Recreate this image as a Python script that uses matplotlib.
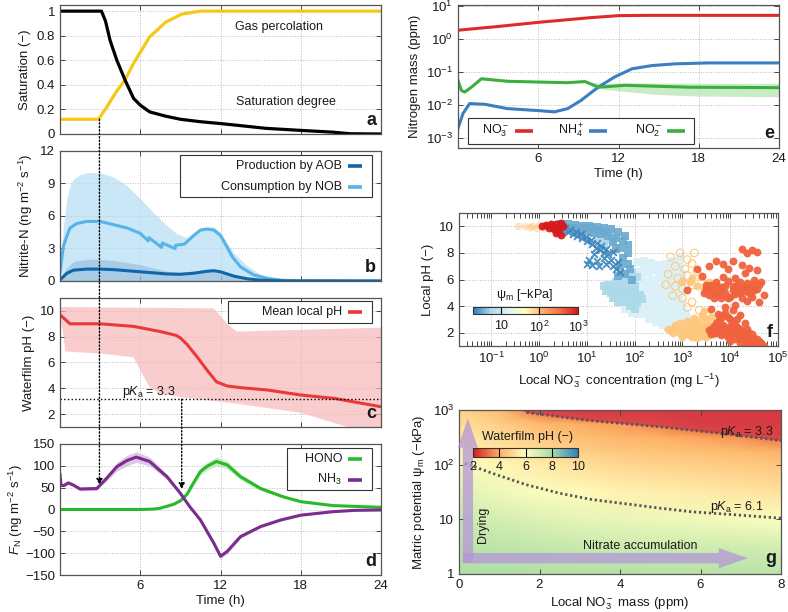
import numpy as np
import matplotlib
matplotlib.use("Agg")
import matplotlib.pyplot as plt
from matplotlib.colors import LinearSegmentedColormap, LogNorm, Normalize
from matplotlib.patches import ConnectionPatch, Rectangle
from matplotlib.cm import ScalarMappable
from matplotlib.lines import Line2D

plt.rcParams['font.family'] = ['Liberation Sans', 'DejaVu Sans']
plt.rcParams['mathtext.fontset'] = 'custom'
plt.rcParams['mathtext.rm'] = 'Liberation Sans'
plt.rcParams['mathtext.it'] = 'Liberation Sans:italic'
plt.rcParams['mathtext.bf'] = 'Liberation Sans:bold'

# ---------------- data ----------------
# a: saturation
a_t_sat = [0, 3.1, 3.4, 3.75, 4.25, 4.86, 5.5, 6.0, 6.7, 7.9, 9.0, 10.5, 12.0, 13.5, 15.4, 17.9, 20.4, 21.7, 24.0]
a_sat = [1.0, 1.0, 0.92, 0.76, 0.60, 0.44, 0.29, 0.235, 0.18, 0.145, 0.12, 0.10, 0.085, 0.068, 0.046, 0.03, 0.015, 0.002, 0.0]
a_t_gas = [0, 2.9, 3.0, 3.5, 4.25, 4.86, 5.5, 6.7, 7.9, 9.1, 10.5, 24]
a_gas = [0.12, 0.12, 0.14, 0.22, 0.35, 0.44, 0.575, 0.79, 0.91, 0.976, 1.0, 1.0]

# b: nitrite rates
nob_t = [0, 0.25, 0.5, 0.75, 1.25, 2.0, 3.0, 4.0, 5.0, 6.0, 6.6, 6.65, 7.6, 7.65, 8.6, 8.65, 9.3, 10.0, 10.5, 11.0, 11.5, 12.0, 12.5, 12.9, 13.5, 14.5, 15.5, 16.5, 17.5, 24]
nob = [0.8, 3.2, 4.1, 4.9, 5.3, 5.5, 5.5, 5.2, 4.9, 4.4, 3.7, 4.0, 3.1, 3.5, 3.0, 3.3, 3.4, 4.2, 4.7, 4.8, 4.7, 4.2, 3.1, 2.2, 1.3, 0.55, 0.25, 0.08, 0.02, 0.0]
nob_hi_t = [0, 0.25, 0.5, 0.75, 1.0, 1.5, 2.0, 3.0, 4.0, 5.0, 6.0, 7.0, 8.0, 8.7, 9.5, 10.5, 11.5, 12.0, 12.5, 13.0, 14.0, 15.0, 16.0, 17.0, 24]
nob_hi = [0.8, 5.0, 7.5, 8.8, 9.4, 9.8, 10.0, 10.0, 9.6, 8.8, 7.6, 6.3, 5.1, 4.4, 4.0, 4.9, 5.0, 4.5, 3.5, 2.6, 1.4, 0.6, 0.2, 0.05, 0.0]
aob_t = [0, 0.25, 0.5, 1.0, 2.0, 3.0, 4.0, 5.0, 6.0, 7.0, 7.5, 8.0, 9.0, 10.0, 11.0, 11.5, 12.0, 12.5, 13.0, 14.0, 15.0, 16.0, 17.0, 24]
aob = [0.1, 0.4, 0.7, 1.0, 1.1, 1.1, 1.05, 0.95, 0.85, 0.75, 0.7, 0.65, 0.62, 0.72, 0.9, 0.95, 0.85, 0.65, 0.45, 0.2, 0.08, 0.03, 0.01, 0.0]
aob_hi_t = [0, 0.5, 1, 2, 3, 4, 5, 6, 7, 8, 9, 10, 11, 12, 13, 14, 15, 16, 24]
aob_hi = [0.1, 1.2, 1.8, 2.0, 2.0, 1.9, 1.7, 1.5, 1.2, 0.9, 0.8, 0.9, 1.05, 1.0, 0.6, 0.25, 0.1, 0.03, 0.0]

# c: waterfilm pH
ph_t = [0, 0.75, 3.0, 5.5, 7.5, 8.7, 9.0, 9.5, 10.2, 11.0, 11.7, 12.5, 13.5, 15.5, 18.0, 20.5, 24.0]
ph = [9.7, 9.0, 9.0, 8.8, 8.4, 8.1, 7.9, 7.4, 6.5, 5.4, 4.5, 4.18, 4.05, 3.87, 3.48, 3.22, 2.57]
ph_hi_t = [0, 11.5, 12.5, 13.2, 24]
ph_hi = [10.3, 10.2, 9.0, 8.4, 8.7]
ph_lo_t = [0, 0.2, 0.4, 3.0, 5.5, 6.0, 6.7, 7.5, 9.1, 12.9, 18.0, 21.5, 24]
ph_lo = [9.5, 8.5, 6.85, 6.7, 6.4, 5.4, 4.1, 3.6, 3.3, 2.85, 2.1, 1.0, 1.0]
pka_line = 3.15

# d: fluxes
nh3_t = [0, 0.08, 0.3, 0.62, 1.0, 1.5, 2.75, 3.0, 3.5, 4.25, 5.0, 5.7, 6.7, 8.0, 9.0, 9.7, 10.5, 11.5, 12.0, 12.5, 13.5, 15.0, 16.5, 18.0, 20.4, 22, 24]
nh3 = [80, 55, 55, 61, 56, 47, 48, 56, 72, 98, 112, 120, 110, 75, 37, 6.5, -24, -77, -107, -96, -62, -39, -24, -13, -5, -2, -1]
nh3_w = [3, 3, 3, 4, 4, 4, 4, 4, 6, 10, 12, 12, 10, 6, 4, 3, 3, 4, 6, 5, 4, 3, 3, 2, 2, 2, 2]
hono_t = [0, 6.0, 7.0, 7.5, 8.5, 9.0, 9.5, 10.0, 10.5, 11.0, 11.7, 12.5, 13.5, 15.0, 16.7, 18.0, 20.4, 24]
hono = [0, 0, 1, 3, 12, 20, 35, 62, 87, 99, 110, 102, 75, 48, 29, 18, 9, 5]
hono_w = [0, 0, 1, 1, 2, 3, 4, 6, 8, 9, 10, 9, 7, 5, 3, 2, 2, 2]

# e: nitrogen mass
no3_t = [0, 3, 6, 9.8, 12, 14, 24]
no3 = [1.85, 2.4, 3.2, 4.4, 5.1, 5.2, 5.2]
nh4_t = [0, 0.37, 0.87, 2.0, 3.7, 6.2, 7.2, 8.2, 9.2, 10.0, 10.7, 11.7, 13.0, 14.5, 16.2, 18.7, 24]
nh4 = [0.002, 0.0056, 0.0112, 0.0107, 0.0079, 0.0068, 0.0063, 0.0079, 0.014, 0.025, 0.04, 0.071, 0.126, 0.158, 0.178, 0.19, 0.19]
no2_t = [0, 0.25, 0.5, 1.0, 1.75, 3.7, 6.2, 8.2, 9.5, 10.5, 12.5, 17.4, 24]
no2 = [0.056, 0.028, 0.025, 0.035, 0.063, 0.053, 0.05, 0.048, 0.052, 0.035, 0.04, 0.035, 0.034]
no2_band_t = [10.0, 11.0, 12.5, 15.0, 18.0, 24]
no2_hi = [0.05, 0.045, 0.048, 0.047, 0.046, 0.046]
no2_lo = [0.045, 0.03, 0.026, 0.021, 0.019, 0.018]

# f: local pH vs nitrate concentration, grouped by matric potential (log10 conc, pH)
f_groups = [
    # (psi_m in -kPa, marker, filled, alpha, log10 x list, pH list)
    (14, 's', True, 0.95,
     [2.0, 2.1, 2.2, 2.35, 2.5, 2.65, 2.8, 2.95, 2.05, 2.2, 2.35, 2.5, 2.65, 2.8, 2.95, 2.0, 2.15, 2.3, 2.45, 2.6, 2.75, 2.9,
      1.9, 2.05, 2.2, 2.35, 2.5, 2.65, 2.8, 2.95, 1.95, 2.1, 2.25, 2.4, 2.55, 2.7, 2.85, 3.0, 2.3, 2.45, 2.6, 2.75, 2.9, 3.05,
      2.6, 2.75, 2.9, 3.05, 3.15, 3.25, 1.8, 2.15, 2.45,
      2.0, 2.15, 2.3, 2.45, 2.6, 2.75, 2.9, 2.1, 2.25, 2.4, 2.55, 2.7, 2.85, 3.0, 1.95, 2.1, 2.25, 2.4, 2.55, 2.7, 2.85, 3.0,
      2.0, 2.15, 2.3, 2.45, 2.6, 2.75, 2.9, 2.4, 2.55, 2.7, 2.85, 3.0, 2.5, 2.65, 2.8, 2.95, 3.1, 2.7, 2.85, 3.0, 3.15, 3.1,
      2.05, 2.2, 2.35],
     [6.2, 6.6, 6.9, 7.0, 7.1, 7.2, 7.4, 7.6, 5.5, 5.8, 6.0, 6.3, 6.5, 6.6, 6.8, 4.8, 5.0, 5.2, 5.4, 5.5, 5.7, 5.9,
      3.9, 4.1, 4.3, 4.5, 4.6, 4.8, 5.0, 5.0, 3.5, 3.4, 3.5, 3.7, 3.9, 4.0, 4.1, 4.2, 3.0, 3.0, 3.1, 3.2, 3.3, 3.5,
      2.6, 2.6, 2.7, 2.9, 2.5, 2.3, 3.8, 3.9, 2.8,
      5.85, 6.25, 6.5, 6.7, 6.9, 7.0, 7.2, 5.2, 5.6, 5.8, 6.0, 6.2, 6.3, 6.4, 4.4, 4.6, 4.8, 5.0, 5.1, 5.3, 5.4, 5.6,
      3.7, 3.8, 4.0, 4.1, 4.3, 4.4, 4.6, 3.3, 3.4, 3.6, 3.7, 3.8, 2.8, 2.9, 3.0, 3.1, 3.2, 2.4, 2.5, 2.6, 2.8, 2.2,
      7.3, 7.4, 7.25]),
    (5.5, 's', True, 0.95,
     [1.15, 1.3, 1.45, 1.25, 1.4, 1.55, 1.5, 1.35, 1.35, 1.45, 1.55, 1.65, 1.75, 1.85, 1.95, 2.05, 1.5, 1.6, 1.7, 1.8, 1.9, 2.0,
      1.45, 1.6, 1.75, 1.9, 2.0, 1.85, 2.1, 1.95, 1.65, 1.55, 1.8, 1.95, 2.05, 1.4, 1.7, 1.85, 2.0, 2.15],
     [9.6, 9.5, 9.35, 9.2, 9.0, 8.9, 9.55, 8.7, 5.5, 5.3, 5.4, 5.2, 5.0, 4.8, 4.5, 4.2, 5.0, 4.8, 4.6, 4.3, 4.0, 3.8,
      5.6, 5.8, 5.9, 6.0, 5.5, 5.5, 4.8, 5.1, 4.3, 4.6, 6.3, 6.5, 6.2, 5.1, 5.4, 5.0, 4.9, 4.5]),
    (3.2, 's', True, 0.9,
     [0.45, 0.6, 0.75, 0.9, 1.05, 1.2, 1.35, 1.5, 1.65, 1.8, 0.7, 0.85, 1.0, 1.15, 1.3, 1.45, 1.6, 1.75, 1.85, 1.55, 1.7, 1.85,
      1.6, 1.75, 1.85, 1.9, 1.7, 1.8, 1.95, 1.65, 1.25, 1.4, 1.1, 0.95],
     [10.2, 10.15, 10.1, 10.05, 10.0, 9.95, 9.9, 9.8, 9.6, 9.3, 9.9, 9.75, 9.65, 9.5, 9.4, 9.3, 9.1, 8.9, 8.6, 8.8, 8.4, 8.0,
      8.3, 7.6, 7.2, 6.8, 7.0, 6.4, 6.0, 6.3, 9.75, 9.6, 9.85, 9.9]),
    (2.2, 'x', True, 0.9,
     [0.30, 0.40, 0.50, 0.45, 0.60, 0.55, 0.70, 0.65, 0.80, 0.78, 0.90, 0.88, 1.00, 0.98, 1.10, 1.08, 1.18, 1.20, 1.28, 1.30,
      1.35, 1.40, 1.15, 1.05, 1.00, 1.10, 1.20, 1.25, 1.35, 1.40, 1.50, 1.55, 1.60, 1.65, 1.45, 1.55, 1.70],
     [9.95, 9.85, 9.7, 10.05, 9.6, 9.9, 9.45, 9.75, 9.3, 9.55, 9.1, 9.4, 8.9, 9.2, 8.7, 9.0, 8.4, 8.75, 8.2, 8.5,
      8.0, 8.3, 7.9, 7.5, 7.2, 7.1, 7.4, 7.0, 7.6, 7.2, 7.5, 7.0, 6.8, 7.3, 7.9, 8.1, 6.6]),
    (90, 'o', True, 0.45,
     [-0.45, -0.3, -0.15, 0.0, -0.2, -0.05, 0.1],
     [10.0, 10.05, 10.0, 10.1, 9.95, 9.9, 9.85]),
    (1000, 'o', True, 0.95,
     [0.05, 0.15, 0.25, 0.35, 0.45, 0.2, 0.3, 0.4, 0.5, 0.35, 0.45],
     [10.05, 10.1, 10.2, 10.2, 10.25, 9.9, 9.8, 9.7, 10.0, 9.5, 9.35]),
    (90, 'o', False, 1.0,
     [2.75, 2.95, 3.1, 2.85, 3.05, 3.2, 2.7, 2.9, 3.1, 3.3, 2.65, 2.85, 3.0, 3.2, 3.4, 2.8, 3.0, 3.2, 3.35, 3.5, 3.1, 3.25],
     [7.7, 8.0, 7.5, 7.0, 6.8, 7.2, 6.4, 6.1, 6.3, 6.6, 5.6, 5.5, 5.3, 5.6, 5.9, 4.8, 4.6, 4.3, 3.7, 3.4, 3.9, 8.0]),
    (90, 'o', True, 0.95,
     [3.0, 3.15, 3.3, 3.45, 3.6, 3.2, 3.4, 3.55, 2.7, 2.85, 3.0, 3.15, 3.3, 3.45, 2.8, 2.95, 3.1, 3.25, 3.4, 3.55,
      3.0, 3.15, 3.3, 3.45, 3.6, 3.3, 3.5, 3.65, 3.6, 3.45,
      2.75, 2.9, 3.05, 3.2, 3.35, 3.5, 2.95, 3.1, 3.25, 3.4, 3.05, 3.2, 3.35, 3.5, 3.6, 3.4, 3.55, 2.85, 3.2],
     [5.9, 5.8, 5.5, 5.3, 5.2, 6.1, 6.2, 5.8, 2.3, 2.4, 2.5, 2.7, 2.9, 3.1, 2.0, 2.0, 2.1, 2.2, 2.4, 2.6,
      1.7, 1.8, 1.9, 2.0, 2.2, 1.6, 1.7, 1.9, 3.2, 3.6,
      2.15, 2.25, 2.3, 2.4, 2.6, 2.8, 2.75, 2.9, 3.1, 3.3, 1.9, 2.0, 2.15, 2.3, 2.5, 1.75, 1.85, 2.6, 1.65]),
    (400, 'o', True, 0.95,
     [4.25, 4.45, 4.55, 4.35, 3.7, 3.85, 4.05, 4.25, 4.4, 4.55, 3.55, 3.3, 3.95, 4.3, 3.4, 4.5, 4.65, 4.7, 4.6, 3.1,
      4.05, 4.2, 3.9, 3.75, 4.1, 3.6,
      3.5, 3.6, 3.7, 3.8, 3.9, 3.75, 3.95, 4.05, 4.15, 4.0, 4.2, 4.3, 4.4, 4.25, 4.45, 3.85, 4.1, 3.65, 3.45, 4.35, 4.5,
      3.6, 3.7, 3.8, 3.9, 4.0, 4.1, 3.75, 3.9, 4.05, 4.2, 4.3, 3.95, 4.1, 4.25, 4.4, 4.5, 4.35, 4.55, 4.65, 4.2, 4.45,
      3.85, 4.0, 4.15, 3.65, 4.6, 4.7,
      3.55, 3.65, 3.75, 3.85, 3.95, 4.05, 4.15, 4.25, 4.35, 4.45, 4.55, 4.6, 3.8, 3.9, 4.0, 4.1, 4.2, 4.3, 4.4, 4.5,
      3.7, 3.8, 3.95, 4.05, 4.15, 4.35, 4.45, 3.6, 4.0, 4.3, 4.5, 4.65,
      3.5, 3.6, 3.7, 3.8, 3.9, 3.95, 4.05, 4.1, 4.2, 4.3, 4.35, 4.45, 4.55, 4.6, 3.55, 3.8, 4.15, 3.7, 4.25, 4.4],
     [8.3, 8.2, 8.1, 8.0, 7.4, 7.2, 7.4, 7.1, 6.9, 6.7, 7.0, 6.8, 6.8, 6.5, 6.3, 6.0, 5.8, 4.8, 4.3, 5.2,
      3.7, 3.3, 3.9, 3.4, 4.1, 3.8,
      5.6, 5.2, 5.8, 5.4, 5.0, 4.9, 5.9, 5.5, 5.1, 4.7, 5.8, 5.4, 5.0, 4.6, 5.6, 6.2, 6.1, 4.6, 5.0, 4.4, 5.2,
      2.3, 2.7, 3.1, 3.5, 3.0, 2.6, 2.0, 2.2, 2.0, 2.3, 2.7, 1.7, 1.5, 1.8, 2.0, 1.6, 1.3, 1.2, 1.05, 1.2, 1.1,
      2.6, 2.5, 3.0, 2.0, 1.4, 1.0,
      2.2, 2.5, 2.9, 3.3, 3.2, 2.8, 2.4, 2.1, 1.7, 1.4, 1.5, 1.2, 1.8, 1.9, 1.8, 2.1, 1.6, 1.5, 1.75, 1.35,
      2.3, 2.4, 2.35, 2.4, 1.9, 2.3, 1.9, 1.9, 1.4, 1.1, 1.0, 1.25,
      5.3, 5.6, 5.0, 5.1, 5.5, 4.6, 5.2, 4.9, 5.0, 5.1, 5.7, 4.7, 5.3, 5.6, 4.8, 4.6, 5.6, 5.5, 5.3, 5.35]),
]

# g: waterfilm pH map
g_x = [0, 1, 2, 3, 4, 5, 6, 7, 8]
g_logpsi = [0, 0.5, 1.0, 1.5, 2.0, 2.25, 2.5, 2.75, 3.0]
g_ph = [
    [7.9, 7.9, 7.8, 7.8, 7.8, 7.7, 7.7, 7.7, 7.6],
    [7.6, 7.5, 7.4, 7.3, 7.2, 7.2, 7.1, 7.1, 7.0],
    [7.2, 7.0, 6.8, 6.6, 6.5, 6.4, 6.3, 6.2, 6.1],
    [6.7, 6.4, 6.1, 5.9, 5.7, 5.6, 5.5, 5.4, 5.3],
    [6.1, 5.8, 5.5, 5.2, 5.0, 4.9, 4.8, 4.7, 4.6],
    [5.8, 5.4, 5.1, 4.8, 4.6, 4.5, 4.4, 4.3, 4.1],
    [5.5, 5.1, 4.7, 4.4, 4.2, 4.1, 3.9, 3.6, 3.2],
    [5.2, 4.8, 4.3, 4.0, 3.8, 3.4, 2.6, 2.4, 2.3],
    [4.9, 4.4, 3.2, 2.4, 2.3, 2.3, 2.3, 2.3, 2.2],
]
pka33_x = [1.55, 1.68, 3.25, 4.9, 6.5, 8.0]
pka33_psi = [1000, 900, 640, 500, 375, 275]
pka61_x = [0.15, 0.84, 1.67, 2.5, 3.3, 4.2, 5.0, 5.8, 6.6, 8.0]
pka61_psi = [106, 69, 43, 30, 23, 19, 16, 13.7, 12.5, 10.5]

# ---------------- figure ----------------
W, H = 788, 612
fig = plt.figure(figsize=(W / 100, H / 100), dpi=100)


def add_ax(l, t, r, b):
    return fig.add_axes([l / W, 1 - b / H, (r - l) / W, (b - t) / H])


TXT = '#1a1a1a'


def style(ax, grid=True):
    for s in ax.spines.values():
        s.set_color('#555555')
        s.set_linewidth(0.9)
    ax.tick_params(which='both', direction='in', top=True, right=True, length=3.5, width=0.7,
                   labelsize=9.5, colors='#444444', labelcolor=TXT)
    if grid:
        ax.grid(True, ls=':', color='#bbbbbb', lw=0.7)
        ax.set_axisbelow(True)


def panel_letter(ax, s):
    ax.text(0.985, 0.04, s, transform=ax.transAxes, ha='right', va='bottom',
            fontsize=13, fontweight='bold', color=TXT)


def manual_legend(box, entries, fs=9):
    # entries: (label, colour, y_px, text_right_px, handle_start_px, handle_end_px)
    l, t, r, b = box
    fig.add_artist(Rectangle((l / W, 1 - b / H), (r - l) / W, (b - t) / H, transform=fig.transFigure,
                             fc='white', ec='#333333', lw=0.8, zorder=5))
    for label, color, ypx, tr, h0, h1 in entries:
        fig.text(tr / W, 1 - ypx / H, label, ha='right', va='center', fontsize=fs, color=TXT, zorder=6)
        fig.add_artist(Line2D([h0 / W, h1 / W], [1 - ypx / H] * 2, transform=fig.transFigure,
                              color=color, lw=2.6, solid_capstyle='butt', zorder=6))


tticks = [6, 12, 18, 24]

# ---- a ----
axa = add_ax(60, 5, 381, 134)
style(axa)
axa.plot(a_t_gas, a_gas, color='#f5c815', lw=2.3, solid_joinstyle='round')
axa.plot(a_t_sat, a_sat, color='black', lw=2.3, solid_joinstyle='round')
axa.set_xlim(0, 24)
axa.set_ylim(0, 1.05)
axa.set_xticks(tticks)
axa.set_xticklabels([])
axa.set_yticks([0, 0.2, 0.4, 0.6, 0.8, 1.0])
axa.set_yticklabels(['0', '0.2', '0.4', '0.6', '0.8', '1'])
axa.set_ylabel('Saturation (−)', fontsize=9.5, color=TXT)
axa.text(16.4, 0.87, 'Gas percolation', ha='center', va='center', fontsize=9, color=TXT)
axa.text(16.9, 0.26, 'Saturation degree', ha='center', va='center', fontsize=9, color=TXT)
panel_letter(axa, 'a')

# ---- b ----
axb = add_ax(60, 151, 381, 281)
style(axb)
axb.fill_between(nob_hi_t, 0, nob_hi, color='#b3ddf3', alpha=0.7, lw=0)
axb.fill_between(aob_hi_t, 0, aob_hi, color='#5d8fc0', alpha=0.3, lw=0)
axb.plot(nob_t, nob, color='#56b4e9', lw=2.2)
axb.plot(aob_t, aob, color='#0f66ab', lw=2.2)
axb.set_xlim(0, 24)
axb.set_ylim(0, 12)
axb.set_xticks(tticks)
axb.set_xticklabels([])
axb.set_yticks([0, 3, 6, 9, 12])
axb.set_ylabel('Nitrite-N (ng m$^{-2}$ s$^{-1}$)', fontsize=9.5, color=TXT)
manual_legend((180, 155, 372, 197), [('Production by AOB', '#0f66ab', 166.5, 342, 348, 362),
                                     ('Consumption by NOB', '#56b4e9', 187, 342, 348, 362)])
panel_letter(axb, 'b')

# ---- c ----
axc = add_ax(60, 298, 381, 427)
style(axc)
axc.fill(list(ph_hi_t) + list(ph_lo_t[::-1]), list(ph_hi) + list(ph_lo[::-1]),
         color='#f7b8b8', alpha=0.7, lw=0)
axc.plot(ph_t, ph, color='#e83a3a', lw=2.2)
axc.axhline(pka_line, color='black', ls=':', lw=1.0)
axc.text(6.65, 3.75, 'p$K_\\mathrm{a}$ = 3.3', ha='center', va='center', fontsize=9, color=TXT)
axc.set_xlim(0, 24)
axc.set_ylim(1, 11)
axc.set_xticks(tticks)
axc.set_xticklabels([])
axc.set_yticks([2, 4, 6, 8, 10])
axc.set_ylabel('Waterfilm pH (−)', fontsize=9.5, color=TXT)
manual_legend((228, 301, 372, 323), [('Mean local pH', '#e83a3a', 312, 342, 348, 362)])
panel_letter(axc, 'c')

# ---- d ----
axd = add_ax(60, 444, 381, 575)
style(axd)
axd.fill_between(nh3_t, np.array(nh3) - np.array(nh3_w), np.array(nh3) + np.array(nh3_w),
                 color='#c9a3d6', alpha=0.6, lw=0)
axd.fill_between(hono_t, np.array(hono) - np.array(hono_w), np.array(hono) + np.array(hono_w),
                 color='#9fe39a', alpha=0.6, lw=0)
axd.plot(hono_t, hono, color='#2cb82c', lw=2.2)
axd.plot(nh3_t, nh3, color='#7a2d8c', lw=2.2)
axd.set_xlim(0, 24)
axd.set_ylim(-150, 150)
axd.set_xticks(tticks)
axd.set_yticks([-150, -100, -50, 0, 50, 100, 150])
axd.set_xlabel('Time (h)', fontsize=9.5, color=TXT, labelpad=2)
axd.set_ylabel('$F_\\mathrm{N}$ (ng m$^{-2}$ s$^{-1}$)', fontsize=9.5, color=TXT, labelpad=0)
manual_legend((287, 448, 372, 490), [('HONO', '#2cb82c', 458.5, 342, 348, 362),
                                     ('NH$_3$', '#7a2d8c', 479.5, 342, 348, 362)])
panel_letter(axd, 'd')

# arrows across a-d
for (xa, ya, axA, xb, yb) in [(2.95, 0.12, axa, 2.95, 56), (9.1, pka_line, axc, 9.1, 46)]:
    cp = ConnectionPatch(xyA=(xa, ya), coordsA=axA.transData, xyB=(xb, yb), coordsB=axd.transData,
                         arrowstyle='-|>', linestyle=(0, (1, 1.5)), color='black', lw=1.0,
                         mutation_scale=9, shrinkA=0, shrinkB=0, zorder=4)
    fig.add_artist(cp)

# ---- e ----
axe = add_ax(458, 5, 779, 148)
style(axe)
axe.fill_between(no2_band_t, no2_lo, no2_hi, color='#a6dea0', alpha=0.6, lw=0)
axe.plot(no3_t, no3, color='#e02a2a', lw=2.2)
axe.plot(nh4_t, nh4, color='#3b7fc0', lw=2.2)
axe.plot(no2_t, no2, color='#3cae3c', lw=2.2)
axe.set_yscale('log')
axe.set_xlim(0, 24)
axe.set_ylim(5.1e-4, 10.7)
axe.set_xticks(tticks)
axe.set_yticks([1e-3, 1e-2, 1e-1, 1, 10])
axe.yaxis.set_minor_locator(matplotlib.ticker.NullLocator())
axe.set_xlabel('Time (h)', fontsize=9.5, color=TXT, labelpad=2)
axe.set_ylabel('Nitrogen mass (ppm)', fontsize=9.5, color=TXT)
manual_legend((468, 118, 694, 144), [('NO$_3^-$', '#e02a2a', 131, 509, 515, 533),
                                     ('NH$_4^+$', '#3b7fc0', 131, 584, 589, 607),
                                     ('NO$_2^-$', '#3cae3c', 131, 662, 667, 685)])
panel_letter(axe, 'e')

# ---- f ----
psi_cmap = LinearSegmentedColormap.from_list(
    'psi', ['#2c7bb6', '#abd9e9', '#e0f3f8', '#ffffbf', '#fdae61', '#f46d43', '#d7191c'])
psi_norm = LogNorm(1.9, 1000)
axf = add_ax(459, 213, 778, 346)
style(axf)
for psi, mk, filled, alp, lx, py in f_groups:
    col = psi_cmap(psi_norm(psi))
    xs = 10 ** np.array(lx)
    if mk == 'x':
        axf.scatter(xs, py, s=24, marker='x', color=col, linewidths=1.4, alpha=alp)
    elif filled:
        axf.scatter(xs, py, s=34 if mk == 's' else 32, marker=mk, color=col, linewidths=0, alpha=alp)
    else:
        axf.scatter(xs, py, s=30, marker=mk, facecolors='none', edgecolors=col, linewidths=0.8)
axf.set_xscale('log')
axf.set_xlim(10 ** -1.68, 1e5)
axf.set_ylim(1, 11)
axf.set_yticks([2, 4, 6, 8, 10])
axf.set_xticks([1e-1, 1, 10, 1e2, 1e3, 1e4, 1e5])
axf.set_ylabel('Local pH (−)', fontsize=9.5, color=TXT)
axf.set_xlabel('Local NO$_3^-$ concentration (mg L$^{-1}$)', fontsize=9.5, color=TXT, labelpad=4)
panel_letter(axf, 'f')

caxf = add_ax(473, 307, 578, 314)
cb = fig.colorbar(ScalarMappable(norm=psi_norm, cmap=psi_cmap), cax=caxf, orientation='horizontal')
cb.outline.set_edgecolor('#333333')
cb.outline.set_linewidth(0.8)
caxf.xaxis.set_minor_locator(matplotlib.ticker.NullLocator())
cb.set_ticks([10, 100, 1000])
cb.set_ticklabels(['10', '10$^2$', '10$^3$'])
caxf.tick_params(length=0, labelsize=9, pad=4, labelcolor=TXT)
for v in [10, 100]:
    caxf.axvline(v, color='black', lw=0.8)
fig.text(525 / W, 1 - 295 / H, 'ψ$_\\mathrm{m}$ [−kPa]', ha='center', va='center', fontsize=9, color=TXT)

# ---- g ----
ph_cmap = LinearSegmentedColormap.from_list('phc', ['#d7191c', '#fdae61', '#ffffbf', '#abdda4', '#2b83ba'])
ph_norm = Normalize(2, 10)
axg = add_ax(459, 410, 781, 574)
style(axg, grid=False)
GX, GY = np.meshgrid(np.array(g_x, float), 10 ** np.array(g_logpsi))
axg.pcolormesh(GX, GY, np.array(g_ph), shading='gouraud', cmap=ph_cmap, norm=ph_norm, rasterized=True)
axg.fill_between(pka33_x, pka33_psi, 1000, color='#d63c48', lw=0, alpha=0.85)
axg.plot(pka33_x[1:], pka33_psi[1:], color='#555555', lw=2.0, ls=(0, (0.8, 1.0)))
axg.plot(pka61_x, pka61_psi, color='#555555', lw=2.0, ls=(0, (0.8, 1.0)))
axg.set_yscale('log')
axg.set_xlim(0, 8)
axg.set_ylim(1, 1000)
axg.set_xticks([0, 2, 4, 6, 8])
axg.set_yticks([1, 10, 100, 1000])
axg.set_yticklabels(['1', '10', '10$^2$', '10$^3$'])
axg.yaxis.set_minor_locator(matplotlib.ticker.NullLocator())
axg.set_ylabel('Matric potential ψ$_\\mathrm{m}$ (−kPa)', fontsize=9.5, color=TXT)
axg.set_xlabel('Local NO$_3^-$ mass (ppm)', fontsize=9.5, color=TXT, labelpad=3)
arrow_col = '#b496d8'
axg.annotate('', xy=(0.22, 700), xytext=(0.22, 1.6),
             arrowprops=dict(arrowstyle='simple,head_length=2.1,head_width=1.45,tail_width=0.75',
                             mutation_scale=10, fc=arrow_col, ec='none', alpha=0.75, shrinkA=0, shrinkB=0))
axg.annotate('', xy=(7.18, 1.95), xytext=(0.1, 1.95),
             arrowprops=dict(arrowstyle='simple,head_length=2.1,head_width=1.45,tail_width=0.75',
                             mutation_scale=10, fc=arrow_col, ec='none', alpha=0.75, shrinkA=0, shrinkB=0))
axg.text(0.6, 8.1, 'Drying', rotation=90, ha='center', va='center', fontsize=9, color=TXT)
axg.text(4.5, 3.2, 'Nitrate accumulation', ha='center', va='center', fontsize=9, color=TXT)
axg.text(7.16, 400, 'p$K_\\mathrm{a}$ = 3.3', ha='center', va='center', fontsize=9, color=TXT)
axg.text(6.9, 16.6, 'p$K_\\mathrm{a}$ = 6.1', ha='center', va='center', fontsize=9, color=TXT)
panel_letter(axg, 'g')

caxg = add_ax(473, 448, 578, 457)
cb2 = fig.colorbar(ScalarMappable(norm=ph_norm, cmap=ph_cmap), cax=caxg, orientation='horizontal')
cb2.outline.set_edgecolor('#333333')
cb2.outline.set_linewidth(0.8)
cb2.set_ticks([2, 4, 6, 8, 10])
caxg.tick_params(length=0, labelsize=9, pad=3, labelcolor=TXT)
for v in [4, 6, 8]:
    caxg.axvline(v, color='black', lw=0.8)
fig.text(527 / W, 1 - 437 / H, 'Waterfilm pH (−)', ha='center', va='center', fontsize=9, color=TXT)

fig.savefig('out.png', dpi=100)
